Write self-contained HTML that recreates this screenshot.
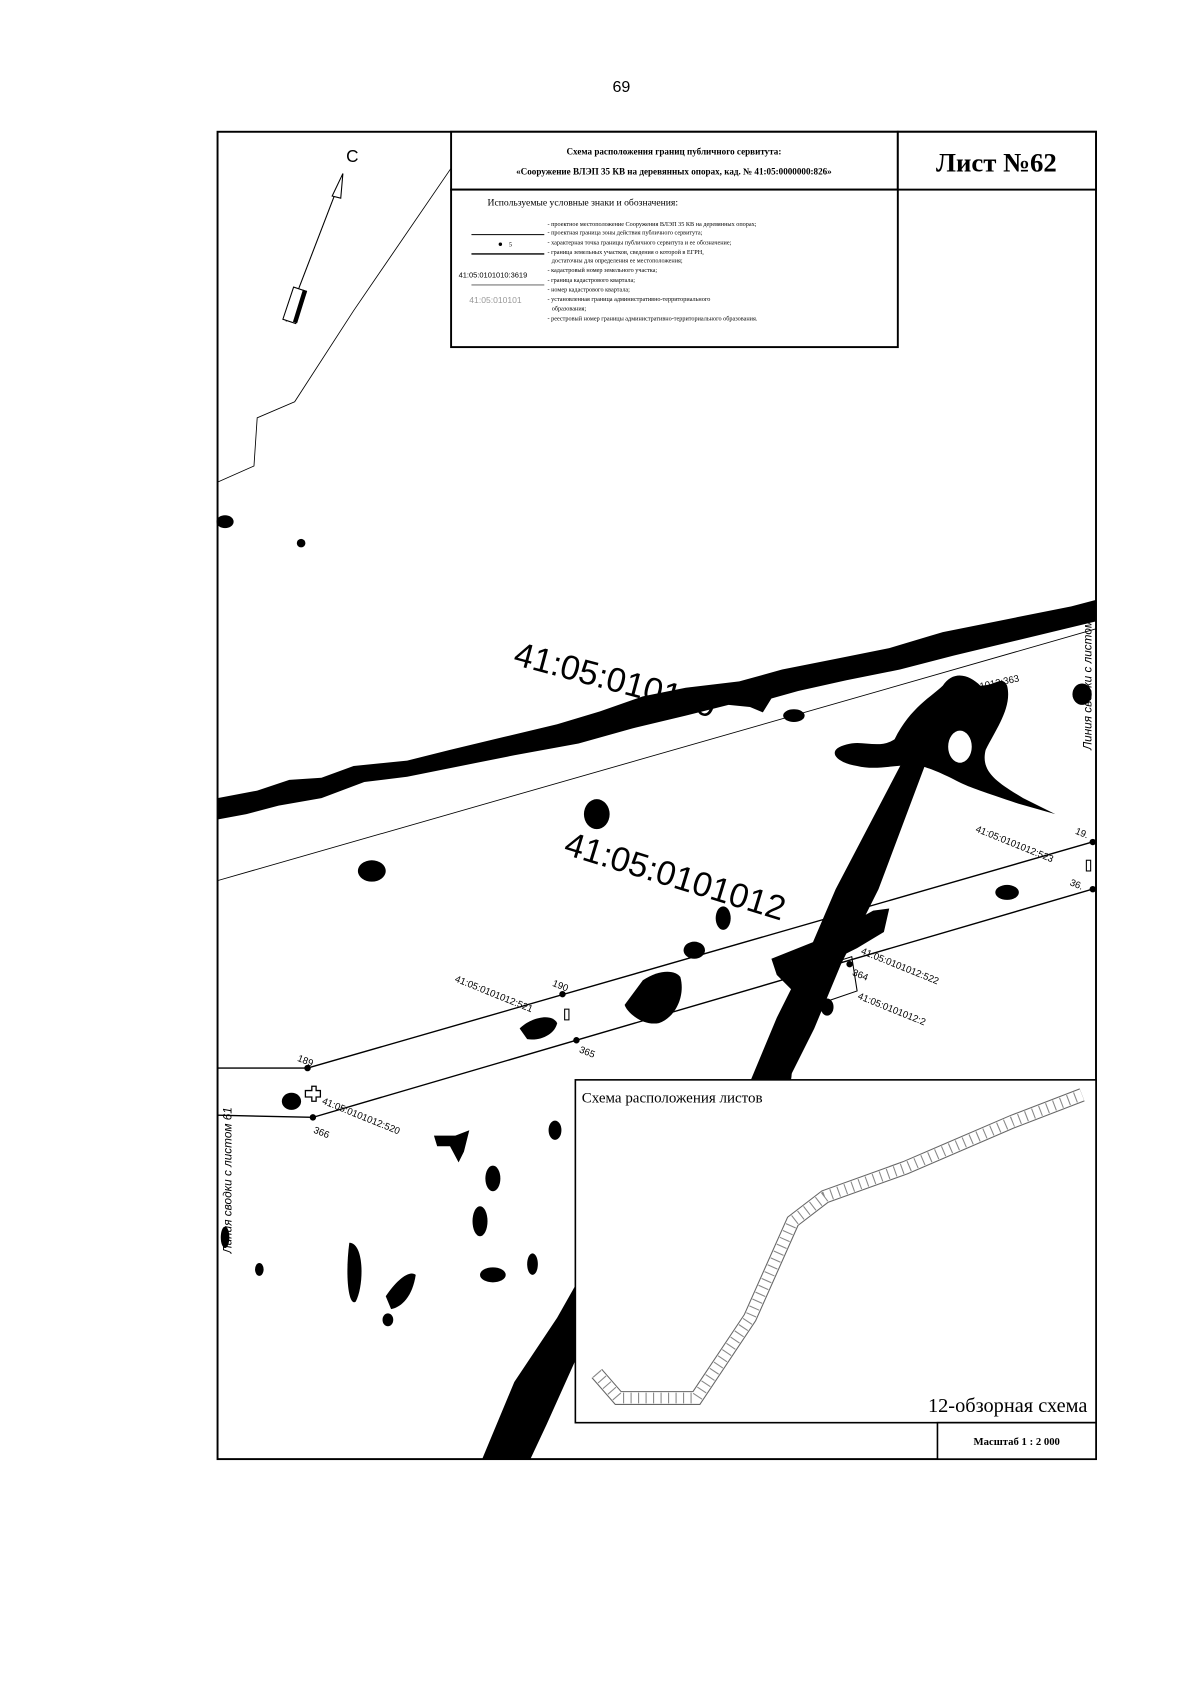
<!DOCTYPE html>
<html><head><meta charset="utf-8"><style>
html,body{margin:0;padding:0;background:#fff;}
svg{display:block;}
text{font-family:"Liberation Serif",serif;}
text.s,.s text{font-family:"Liberation Sans",sans-serif;}
</style></head><body>
<svg width="1200" height="1698" viewBox="0 0 1120 1585" xmlns="http://www.w3.org/2000/svg">
<rect width="1120" height="1585" fill="#fff"/>
<text x="580" y="86" class="s" font-size="15" text-anchor="middle">69</text>

<g fill="#000">
  <path d="M203,745 L240,738 L270,728 L300,726 L330,715 L380,710 L420,700 L470,688 L520,676 L560,664 L600,650 L640,642 L690,636 L730,625 L780,615 L830,605 L880,590 L940,578 L1000,566 L1023,560 L1023,580 L990,588 L940,600 L890,612 L840,625 L790,635 L745,645 L720,652 L712,665 L700,660 L680,658 L640,668 L590,680 L540,694 L480,705 L430,715 L380,725 L340,730 L300,745 L260,752 L230,760 L203,765 Z"/>
  <ellipse cx="741" cy="668" rx="10" ry="6"/>
  <path d="M848,700 L868,702 L820,830 L785,900 L760,960 L735,1010 L700,1010 L725,950 L750,900 L780,830 Z"/>
  <path d="M450,1362 L480,1290 L520,1230 L537,1200 L537,1270 L510,1330 L495,1362 Z"/>
  <path d="M835,690 C850,660 870,650 880,640 C890,625 905,630 915,640 C930,640 935,630 940,640 C945,660 930,680 920,700 C915,720 930,730 955,745 L985,760 L950,750 C920,740 905,735 895,730 C880,722 870,718 860,715 C840,712 820,720 800,715 C780,712 770,700 790,695 C805,690 820,700 835,690 Z"/>
  <ellipse cx="896" cy="697" rx="11" ry="15" fill="#fff"/>
  <path d="M720,895 L770,875 L815,850 L830,848 L825,870 L800,885 L760,905 L740,925 L725,910 Z"/>
  <ellipse cx="557" cy="760" rx="12" ry="14"/>
  <ellipse cx="347" cy="813" rx="13" ry="10"/>
  <ellipse cx="675" cy="857" rx="7" ry="11"/>
  <ellipse cx="648" cy="887" rx="10" ry="8"/>
  <path d="M600,915 C615,905 630,905 635,912 C640,930 630,950 615,955 C600,958 585,945 583,938 Z"/>
  <path d="M485,960 C495,950 515,945 520,955 C518,965 505,972 492,970 Z"/>
  <ellipse cx="940" cy="833" rx="11" ry="7"/>
  <ellipse cx="772" cy="940" rx="6" ry="8"/>
  <ellipse cx="735" cy="1000" rx="4" ry="14"/>
  <ellipse cx="210" cy="487" rx="8" ry="6"/>
  <circle cx="281" cy="507" r="4"/>
  <ellipse cx="1010" cy="648" rx="9" ry="10"/>
  <ellipse cx="272" cy="1028" rx="9" ry="8"/>
  <path d="M405,1060 L425,1060 L438,1055 L433,1075 L428,1085 L420,1070 L408,1070 Z"/>
  <ellipse cx="518" cy="1055" rx="6" ry="9"/>
  <ellipse cx="460" cy="1100" rx="7" ry="12"/>
  <ellipse cx="448" cy="1140" rx="7" ry="14"/>
  <path d="M326,1160 C340,1160 340,1200 332,1215 C325,1220 322,1190 326,1160 Z"/>
  <path d="M360,1210 C370,1195 382,1185 388,1190 C385,1210 375,1220 365,1222 Z"/>
  <ellipse cx="460" cy="1190" rx="12" ry="7"/>
  <ellipse cx="497" cy="1180" rx="5" ry="10"/>
  <ellipse cx="242" cy="1185" rx="4" ry="6"/>
  <ellipse cx="362" cy="1232" rx="5" ry="6"/>
  <ellipse cx="210" cy="1155" rx="4" ry="10"/>
</g>

<g stroke="#000" fill="none">
  <polyline points="421,157 330,290 275,375 240,390 237,435 203,450" stroke-width="0.8"/>
  <line x1="203" y1="822" x2="1023" y2="587" stroke-width="0.8"/>
  <line x1="287" y1="997" x2="1023" y2="785" stroke-width="1.3"/>
  <line x1="292" y1="1043" x2="1023" y2="829" stroke-width="1.3"/>
  <line x1="203" y1="997" x2="287" y2="997" stroke-width="1.3"/>
  <line x1="203" y1="1041" x2="292" y2="1043" stroke-width="1.3"/>
  <polygon points="758,905 795,893 800,925 765,937" stroke-width="1"/>
  <rect x="527" y="942" width="4" height="10" stroke-width="1"/>
  <rect x="1014" y="803" width="4" height="10" stroke-width="1"/>
  <path d="M285,1018 l6,0 l0,-4 l4,0 l0,4 l4,0 l0,6 l-4,0 l0,4 l-4,0 l0,-4 l-6,0 z" stroke-width="1.2"/>
</g>
<g fill="#000">
  <circle cx="287" cy="997" r="3"/><circle cx="525" cy="928" r="3"/><circle cx="1020" cy="786" r="3"/>
  <circle cx="292" cy="1043" r="3"/><circle cx="538" cy="971" r="3"/><circle cx="1020" cy="830" r="3"/>
  <circle cx="793" cy="900" r="3"/>
</g>

<g class="s" fill="#000">
  <text x="478" y="620" font-size="32" transform="rotate(15 478 620)">41:05:010110</text>
  <text x="525" y="797" font-size="32" transform="rotate(17 525 797)">41:05:0101012</text>
  <text x="876" y="652" font-size="9" transform="rotate(-12 876 652)">41:05:0101012:363</text>
  <text x="910" y="776" font-size="9" transform="rotate(22 910 776)">41:05:0101012:523</text>
  <text x="803" y="890" font-size="9" transform="rotate(22 803 890)">41:05:0101012:522</text>
  <text x="800" y="932" font-size="9" transform="rotate(22 800 932)">41:05:0101012:2</text>
  <text x="424" y="916" font-size="9" transform="rotate(22 424 916)">41:05:0101012:521</text>
  <text x="300" y="1030" font-size="9" transform="rotate(22 300 1030)">41:05:0101012:520</text>
  <text x="515" y="920" font-size="9" transform="rotate(22 515 920)">190</text>
  <text x="277" y="990" font-size="9" transform="rotate(22 277 990)">189</text>
  <text x="540" y="982" font-size="9" transform="rotate(22 540 982)">365</text>
  <text x="292" y="1057" font-size="9" transform="rotate(22 292 1057)">366</text>
  <text x="795" y="910" font-size="9" transform="rotate(22 795 910)">364</text>
  <text x="1003" y="778" font-size="9" transform="rotate(22 1003 778)">19.</text>
  <text x="998" y="826" font-size="9" transform="rotate(22 998 826)">36.</text>
  <text x="216" y="1170" font-size="11" font-style="italic" transform="rotate(-90 216 1170)">Линия сводки с листом 61</text>
  <text x="1019" y="700" font-size="11" font-style="italic" transform="rotate(-90 1019 700)">Линия сводки с листом</text>
</g>

<g stroke="#000" fill="none" stroke-width="1">
  <line x1="267" y1="300" x2="320" y2="162"/>
  <polygon points="320,162 318,185 310,183" fill="#fff"/>
  <polygon points="264,298 274,268 286,272 276,302" fill="#fff"/>
  <polygon points="274,300 283,271 286,272 277,301" fill="#000"/>
</g>
<text x="323" y="151" class="s" font-size="16">C</text>

<rect x="203" y="123" width="820" height="1239" fill="none" stroke="#000" stroke-width="1.8"/>

<rect x="421" y="123" width="417" height="54" fill="#fff" stroke="#000" stroke-width="1.8"/>
<rect x="421" y="177" width="417" height="147" fill="#fff" stroke="#000" stroke-width="1.8"/>
<rect x="838" y="123" width="185" height="54" fill="#fff" stroke="#000" stroke-width="1.8"/>
<text x="629" y="144" font-size="8.5" font-weight="bold" text-anchor="middle">Схема расположения границ публичного сервитута:</text>
<text x="629" y="163" font-size="8.5" font-weight="bold" text-anchor="middle">«Сооружение ВЛЭП 35 КВ на деревянных опорах, кад. № 41:05:0000000:826»</text>
<text x="930" y="160" font-size="25" font-weight="bold" text-anchor="middle">Лист №62</text>
<text x="455" y="192" font-size="9">Используемые условные знаки и обозначения:</text>
<g font-size="5.8">
<text x="511" y="211">- проектное местоположение Сооружения ВЛЭП 35 КВ на деревянных опорах;</text>
<text x="511" y="219">- проектная граница зоны действия публичного сервитута;</text>
<text x="511" y="228">- характерная точка границы публичного сервитута и ее обозначение;</text>
<text x="511" y="237">- граница земельных участков, сведения о которой в ЕГРН,</text>
<text x="515" y="245">достаточны для определения ее местоположения;</text>
<text x="511" y="254">- кадастровый номер земельного участка;</text>
<text x="511" y="263">- граница кадастрового квартала;</text>
<text x="511" y="272">- номер кадастрового квартала;</text>
<text x="511" y="281">- установленная граница административно-территориального</text>
<text x="515" y="290">образования;</text>
<text x="511" y="299">- реестровый номер границы административно-территориального образования.</text>
</g>
<line x1="440" y1="219" x2="508" y2="219" stroke="#000" stroke-width="1"/>
<circle cx="467" cy="228" r="1.6"/><text x="475" y="230" font-size="6">5</text>
<line x1="440" y1="237" x2="508" y2="237" stroke="#000" stroke-width="1.3"/>
<text x="428" y="259" class="s" font-size="7">41:05:0101010:3619</text>
<line x1="440" y1="266" x2="508" y2="266" stroke="#777" stroke-width="1"/>
<text x="438" y="283" class="s" font-size="8" fill="#999">41:05:010101</text>

<rect x="537" y="1008" width="486" height="320" fill="#fff" stroke="#000" stroke-width="1.5"/>
<text x="543" y="1029" font-size="14">Схема расположения листов</text>
<g fill="none" stroke="#555">
  <polyline points="557,1282 577,1305 650,1305 700,1230 740,1140 770,1117 845,1090 945,1047 1010,1022" stroke-width="13" stroke="#666"/>
  <polyline points="557,1282 577,1305 650,1305 700,1230 740,1140 770,1117 845,1090 945,1047 1010,1022" stroke-width="11" stroke="#fff"/>
  <polyline points="557,1282 577,1305 650,1305 700,1230 740,1140 770,1117 845,1090 945,1047 1010,1022" stroke-width="10" stroke="#888" stroke-dasharray="1 6"/>
</g>
<text x="1015" y="1318" font-size="19" text-anchor="end">12-обзорная схема</text>
<rect x="875" y="1328" width="148" height="34" fill="#fff" stroke="#000" stroke-width="1.5"/>
<text x="949" y="1349" font-size="10" font-weight="bold" text-anchor="middle">Масштаб 1 : 2 000</text>
</svg>
</body></html>
